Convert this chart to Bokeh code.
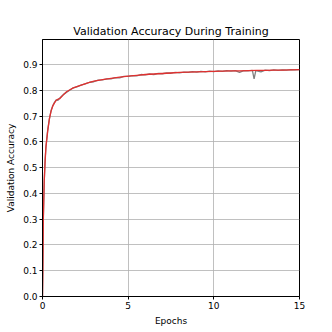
from bokeh.plotting import figure
from bokeh.models import FixedTicker, PrintfTickFormatter, Range1d
from bokeh.embed import file_html
from bokeh.resources import INLINE

# Raw validation accuracy (gray)
raw_epochs = [0, 0.02, 0.05, 0.1, 0.15, 0.2, 0.3, 0.4, 0.5, 0.6, 0.7, 0.8, 0.9, 1.0,
              1.25, 1.5, 1.75, 2.0, 2.25, 2.5, 2.75, 3.0, 3.25, 3.5, 3.75, 4.0, 4.25,
              4.5, 4.75, 5.0, 5.25, 5.5, 5.75, 6.0, 6.25, 6.5, 6.75, 7.0, 7.25, 7.5,
              7.75, 8.0, 8.25, 8.5, 8.75, 9.0, 9.25, 9.5, 9.75, 10.0, 10.25, 10.5,
              10.75, 11.0, 11.25, 11.5, 11.75, 12.0, 12.25, 12.35, 12.45, 12.75, 13.0,
              13.25, 13.5, 13.75, 14.0, 14.25, 14.5, 14.75, 15.0]
raw_acc = [0.0, 0.11, 0.31, 0.44, 0.53, 0.58, 0.645, 0.688, 0.722, 0.741, 0.754, 0.764,
           0.762, 0.770, 0.786, 0.797, 0.809, 0.814, 0.821, 0.826, 0.832, 0.834, 0.840,
           0.841, 0.845, 0.845, 0.850, 0.849, 0.855, 0.855, 0.858, 0.857, 0.862, 0.861,
           0.864, 0.862, 0.866, 0.865, 0.868, 0.867, 0.870, 0.868, 0.871, 0.870, 0.873,
           0.871, 0.874, 0.872, 0.875, 0.873, 0.876, 0.874, 0.877, 0.875, 0.877, 0.870,
           0.877, 0.876, 0.878, 0.845, 0.877, 0.872, 0.879, 0.877, 0.880, 0.878, 0.880,
           0.879, 0.881, 0.880, 0.881]

# Smoothed validation accuracy (red)
smooth_epochs = [0, 0.02, 0.05, 0.1, 0.15, 0.2, 0.3, 0.4, 0.5, 0.6, 0.7, 0.8, 0.9, 1.0,
                 1.2, 1.4, 1.6, 1.8, 2.0, 2.3, 2.6, 3.0, 3.5, 4.0, 4.5, 5.0, 5.5, 6.0,
                 6.5, 7.0, 7.5, 8.0, 8.5, 9.0, 9.5, 10.0, 10.5, 11.0, 11.5, 12.0, 12.5,
                 13.0, 13.5, 14.0, 14.5, 15.0]
smooth_acc = [0.0, 0.10, 0.30, 0.45, 0.52, 0.58, 0.64, 0.69, 0.72, 0.74, 0.752, 0.762,
              0.766, 0.768, 0.782, 0.795, 0.803, 0.810, 0.815, 0.822, 0.829, 0.836,
              0.842, 0.847, 0.852, 0.856, 0.859, 0.862, 0.864, 0.866, 0.868, 0.870,
              0.871, 0.872, 0.873, 0.874, 0.875, 0.876, 0.876, 0.877, 0.878, 0.878,
              0.879, 0.879, 0.880, 0.881]

x_ticks = [0, 5, 10, 15]
y_ticks = [0.0, 0.1, 0.2, 0.3, 0.4, 0.5, 0.6, 0.7, 0.8, 0.9]

FONT = "DejaVu Sans"

p = figure(width=332, height=332, output_backend="svg", toolbar_location=None,
           x_range=Range1d(0, 15), y_range=Range1d(0, 0.998),
           title="Validation Accuracy During Training",
           min_border_left=42, min_border_right=33, min_border_top=39, min_border_bottom=36)

p.line(raw_epochs, raw_acc, line_color="#808080", line_width=1.3)
p.line(smooth_epochs, smooth_acc, line_color="#e0302f", line_width=1.3)

p.title.align = "center"
p.title.text_font = FONT
p.title.text_font_size = "11px"
p.title.text_font_style = "normal"
p.title.text_color = "black"
p.title.standoff = 4

p.outline_line_color = "black"
p.outline_line_width = 1
p.outline_line_alpha = 1

for ax in (p.xaxis[0], p.yaxis[0]):
    ax.major_label_text_font = FONT
    ax.major_label_text_font_size = "9px"
    ax.major_label_text_color = "black"
    ax.axis_label_text_font = FONT
    ax.axis_label_text_font_size = "9px"
    ax.axis_label_text_font_style = "normal"
    ax.axis_label_text_color = "black"
    ax.axis_line_color = "black"
    ax.major_tick_line_color = "black"
    ax.major_tick_in = 0
    ax.major_tick_out = 3
    ax.minor_tick_line_color = None
    ax.major_label_standoff = 2
    ax.axis_label_standoff = 4

p.xaxis.axis_label = "Epochs"
p.yaxis.axis_label = "Validation Accuracy"
p.xaxis.ticker = FixedTicker(ticks=x_ticks)
p.yaxis.ticker = FixedTicker(ticks=y_ticks)
p.xaxis.formatter = PrintfTickFormatter(format="%d")
p.yaxis.formatter = PrintfTickFormatter(format="%.1f")

p.xgrid.ticker = FixedTicker(ticks=x_ticks)
p.ygrid.ticker = FixedTicker(ticks=y_ticks)
for g in (p.xgrid[0], p.ygrid[0]):
    g.grid_line_color = "#b0b0b0"
    g.grid_line_width = 0.8

open("out.html", "w").write(file_html(p, INLINE))
